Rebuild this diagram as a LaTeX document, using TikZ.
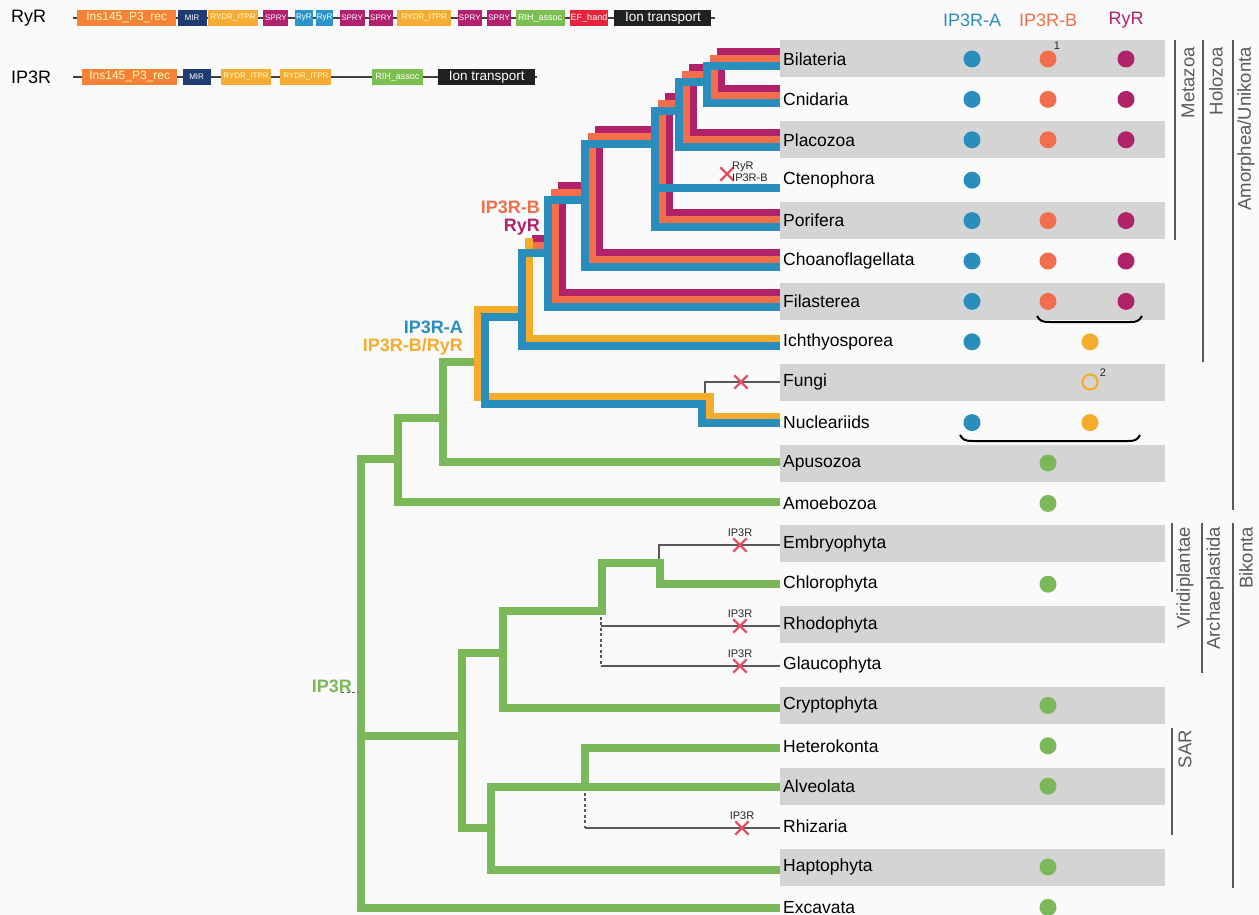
\documentclass[tikz,border=0pt]{standalone}
\usepackage{fontspec}
\setmainfont{Liberation Sans}
\usetikzlibrary{positioning,shapes.misc}
\definecolor{GeneA}{RGB}{41,142,188}
\definecolor{GeneB}{RGB}{242,110,76}
\definecolor{GeneR}{RGB}{176,34,106}
\definecolor{GeneBR}{RGB}{245,172,45}
\definecolor{GeneIP}{RGB}{122,184,90}
\definecolor{LossRed}{RGB}{226,82,100}
\definecolor{BandGray}{RGB}{212,212,212}
\definecolor{PageBg}{RGB}{250,250,250}
\definecolor{CladeGray}{RGB}{90,90,90}
\definecolor{dIns}{RGB}{245,130,55}
\definecolor{dMIR}{RGB}{30,60,115}
\definecolor{dRYDR}{RGB}{246,172,52}
\definecolor{dSPRY}{RGB}{178,32,112}
\definecolor{dRyR}{RGB}{40,150,200}
\definecolor{dRIH}{RGB}{125,190,80}
\definecolor{dEF}{RGB}{230,36,60}
\definecolor{dIon}{RGB}{35,32,33}
\newcommand\taxfont{\fontsize{17.5}{20}\selectfont}
\newcommand\cladefont{\fontsize{18.5}{20}\selectfont}
\newcommand\genefont{\fontsize{18}{20}\selectfont}
\newcommand\lossfont{\fontsize{11}{12}\selectfont}
\newcommand\domS{\fontsize{8}{9}\selectfont}
\newcommand\domM{\fontsize{9}{10}\selectfont}
\newcommand\domL{\fontsize{12}{13}\selectfont}
\newcommand\domI{\fontsize{13.5}{14}\selectfont}
% one copy of the animal part of the tree, shifted by (#2,#3)
\newcommand\metabundle[3]{%
  \draw[#1] (780,66+#3) -| (707+#2,103+#3) -- (780,103+#3);
  \draw[#1] (707+#2,82+#3) -| (679+#2,147+#3) -- (780,147+#3);
  \draw[#1] (679+#2,111+#3) -| (655+#2,227+#3) -- (780,227+#3);
  \draw[#1] (655+#2,144+#3) -| (585+#2,267+#3) -- (780,267+#3);
  \draw[#1] (585+#2,200+#3) -| (548+#2,307+#3) -- (780,307+#3);
}
\tikzset{
  taxon/.style={anchor=west,inner sep=0pt,font=\taxfont},
  dombox/.style={inner sep=0pt,minimum height=16pt,text=white,font=\domS},
  bbone/.style={draw=black!75,line width=1.5pt},
  lnA/.style={draw=GeneA,line width=7.2pt},
  lnB/.style={draw=GeneB,line width=7.2pt},
  lnR/.style={draw=GeneR,line width=7.2pt},
  lnY/.style={draw=GeneBR,line width=7.2pt},
  lnG/.style={draw=GeneIP,line width=8pt},
  gone/.style={draw=black!65,line width=1.3pt},
  gonedash/.style={gone,dash pattern=on 3pt off 2.5pt},
  lost/.style={cross out,draw=LossRed,line width=2.4pt,minimum size=11pt,inner sep=0pt},
  lossl/.style={font=\lossfont,text=black!85,inner sep=1pt},
  dotA/.style={circle,fill=GeneA,minimum size=17pt,inner sep=0pt},
  dotB/.style={circle,fill=GeneB,minimum size=17pt,inner sep=0pt},
  dotR/.style={circle,fill=GeneR,minimum size=17pt,inner sep=0pt},
  dotY/.style={circle,fill=GeneBR,minimum size=17pt,inner sep=0pt},
  dotG/.style={circle,fill=GeneIP,minimum size=17pt,inner sep=0pt},
  clade/.style={rotate=90,anchor=east,inner sep=0pt,font=\cladefont,text=CladeGray},
  cladeline/.style={draw=CladeGray,line width=1.4pt},
  gene/.style={anchor=east,inner sep=0pt,font=\genefont\bfseries},
  head/.style={inner sep=0pt,font=\genefont},
  brace/.style={draw=black,line width=2pt},
}
\begin{document}
\begin{tikzpicture}[x=1pt,y=-1pt]
  \fill[PageBg] (0,0) rectangle (1259,915);
  \useasboundingbox (0,0) rectangle (1259,915);

  % domain architectures
  \node[anchor=west,inner sep=0pt,font=\genefont] (rowRyR) at (11,18) {RyR};
  \coordinate (rA) at (73,18);
  \coordinate (rZ) at (715,18);
  \draw[bbone] (rA) -- (rZ);
  \node[dombox,fill=dIns,text=yellow!25,font=\domL,minimum width=99pt,anchor=west] (rIns) at (77,18) {Ins145\_P3\_rec};
  \node[dombox,fill=dMIR,minimum width=29pt,right=1pt of rIns] (rMIR) {MIR};
  \node[dombox,fill=dRYDR,text=yellow!20,minimum width=50pt,right=1pt of rMIR] (rRYDRa) {RYDR\_ITPR};
  \node[dombox,fill=dSPRY,minimum width=25pt,right=5pt of rRYDRa] (rSPRYa) {SPRY};
  \node[dombox,fill=dRyR,minimum width=18pt,right=6pt of rSPRYa] (rRyRa) {RyR};
  \node[dombox,fill=dRyR,minimum width=17pt,right=3pt of rRyRa] (rRyRb) {RyR};
  \node[dombox,fill=dSPRY,minimum width=25pt,right=6pt of rRyRb] (rSPRYb) {SPRY};
  \node[dombox,fill=dSPRY,minimum width=24pt,right=4pt of rSPRYb] (rSPRYc) {SPRY};
  \node[dombox,fill=dRYDR,text=yellow!20,minimum width=54pt,right=4pt of rSPRYc] (rRYDRb) {RYDR\_ITPR};
  \node[dombox,fill=dSPRY,minimum width=24pt,right=6pt of rRYDRb] (rSPRYd) {SPRY};
  \node[dombox,fill=dSPRY,minimum width=24pt,right=5pt of rSPRYd] (rSPRYe) {SPRY};
  \node[dombox,fill=dRIH,font=\domM,minimum width=49pt,right=4pt of rSPRYe] (rRIH) {RIH\_assoc};
  \node[dombox,fill=dEF,font=\domM,minimum width=38pt,right=5pt of rRIH] (rEF) {EF\_hand};
  \node[dombox,fill=dIon,font=\domI,minimum width=97pt,right=6pt of rEF] (rIon) {Ion transport};

  \node[anchor=west,inner sep=0pt,font=\genefont] (rowIP3R) at (11,77) {IP3R};
  \coordinate (iA) at (73,77);
  \coordinate (iZ) at (537,77);
  \draw[bbone] (iA) -- (iZ);
  \node[dombox,fill=dIns,text=yellow!25,font=\domL,minimum width=95pt,anchor=west] (iIns) at (82,77) {Ins145\_P3\_rec};
  \node[dombox,fill=dMIR,minimum width=28pt,right=5pt of iIns] (iMIR) {MIR};
  \node[dombox,fill=dRYDR,text=yellow!20,minimum width=50pt,right=10pt of iMIR] (iRYDRa) {RYDR\_ITPR};
  \node[dombox,fill=dRYDR,text=yellow!20,minimum width=51pt,right=9pt of iRYDRa] (iRYDRb) {RYDR\_ITPR};
  \node[dombox,fill=dRIH,font=\domM,minimum width=51pt,right=40pt of iRYDRb] (iRIH) {RIH\_assoc};
  \node[dombox,fill=dIon,font=\domI,minimum width=97pt,right=15pt of iRIH] (iIon) {Ion transport};

  % taxa and grey bands
  \foreach \nm/\tx [count=\i from 0] in {bil/Bilateria,cni/Cnidaria,pla/Placozoa,cte/Ctenophora,por/Porifera,cho/Choanoflagellata,fil/Filasterea,ich/Ichthyosporea,fun/Fungi,nuc/Nucleariids,apu/Apusozoa,amo/Amoebozoa,emb/Embryophyta,chl/Chlorophyta,rho/Rhodophyta,gla/Glaucophyta,cry/Cryptophyta,het/Heterokonta,alv/Alveolata,rhi/Rhizaria,hap/Haptophyta,exc/Excavata}{
    \ifodd\i\relax\else
      \fill[BandGray] (780,{59+40.4*\i-18.5}) rectangle (1165,{59+40.4*\i+18.5});
    \fi
    \node[taxon] (\nm) at (783,{59+40.4*\i}) {\tx};
  }

  % lost branches
  \draw[gone] (705,397) |- (780,382);
  \draw[gone] (659,563) |- (780,545);
  \draw[gonedash] (601,611) -- (601,666);
  \draw[gone] (601,626) -- (780,626);
  \draw[gone] (601,666) -- (780,666);
  \draw[gonedash] (585,787) -- (585,828);
  \draw[gone] (585,828) -- (780,828);

  % IP3R tree
  \draw[lnG] (478,362) -| (443,462) -- (780,462);
  \draw[lnG] (443,418) -| (398,502) -- (780,502);
  \draw[lnG] (398,459) -| (361,908) -- (780,908);
  \draw[lnG] (361,736) -- (462,736);
  \draw[lnG] (503,653) -| (462,828) -- (491,828);
  \draw[lnG] (780,584) -| (660,563) -| (602,611) -| (503,708) -- (780,708);
  \draw[lnG] (780,748) -| (585,787);
  \draw[lnG] (780,787) -| (491,870) -- (780,870);

  % RyR and IP3R-B
  \metabundle{lnR}{14}{-14}
  \draw[lnR] (562,239) -- (532,239);
  \metabundle{lnB}{7}{-7}
  \draw[lnB] (555,246) -- (532,246);
  % IP3R-B/RyR before the split
  \draw[lnY] (529,238) |- (780,339);
  \draw[lnY] (529,310) -| (478,397) -| (710,417) -- (780,417);
  % IP3R-A
  \metabundle{lnA}{0}{0}
  \draw[lnA] (655,188) -- (780,188);
  \draw[lnA] (548,253) -| (522,346) -- (780,346);
  \draw[lnA] (522,317) -| (485,404) -| (702,423) -- (780,423);

  % gene labels
  \node[gene,text=GeneB] (lB) at (540,207) {IP3R-B};
  \node[gene,text=GeneR] (lR) at (540,227) {RyR};
  \node[gene,text=GeneA] (lA) at (463,327) {IP3R-A};
  \node[gene,text=GeneBR] (lBR) at (463,347) {IP3R-B/RyR};
  \node[gene,text=GeneIP] (lIP3R) at (352,686) {IP3R};
  \draw[gonedash,line width=1pt] (341,692) -- (358,692);

  % losses
  \node[lost] (xCte) at (727,174) {};
  \node[lossl,align=left,anchor=west,font=\fontsize{11}{11.5}\selectfont] (lCte) at (731,172) {RyR\\IP3R-B};
  \node[lost] (xFun) at (741,382) {};
  \node[lost,label={[lossl]above:IP3R}] (xEmb) at (740,545) {};
  \node[lost,label={[lossl]above:IP3R}] (xRho) at (740,626) {};
  \node[lost,label={[lossl]above:IP3R}] (xGla) at (740,666) {};
  \node[lost,label={[lossl]above:IP3R}] (xRhi) at (742,828) {};

  % presence table
  \node[head,text=GeneA] (hA) at (972,20) {IP3R-A};
  \node[head,text=GeneB] (hB) at (1048,20) {IP3R-B};
  \node[head,text=GeneR] (hR) at (1126,20) {RyR};
  \foreach \r in {0,1,2,3,4,5,6,7,9}
    \node[dotA] (a\r) at (972,{59+40.4*\r}) {};
  \foreach \r in {0,1,2,4,5,6}{
    \node[dotB] (b\r) at (1048,{59+40.4*\r}) {};
    \node[dotR] (m\r) at (1126,{59+40.4*\r}) {};
  }
  \foreach \r in {7,9}
    \node[dotY] (y\r) at (1090,{59+40.4*\r}) {};
  \node[circle,draw=GeneBR,line width=2.2pt,minimum size=15pt,inner sep=0pt] (y8) at (1090,382) {};
  \foreach \r in {10,11,13,16,17,18,20,21}
    \node[dotG] (g\r) at (1048,{59+40.4*\r}) {};
  \node[lossl] (n1) at (1057,46) {1};
  \node[lossl] (n2) at (1103,373) {2};
  \draw[brace] (1037,316) .. controls (1040,321) and (1042,322) .. (1050,322) -- (1130,322) .. controls (1137,322) and (1139,321) .. (1142,316);
  \draw[brace] (960,435) .. controls (963,440) and (965,441) .. (973,441) -- (1128,441) .. controls (1135,441) and (1137,440) .. (1140,435);

  % clades
  \draw[cladeline] (1175,40) -- (1175,240);
  \node[clade] (metazoa) at (1188,47) {Metazoa};
  \draw[cladeline] (1203,40) -- (1203,362);
  \node[clade] (holozoa) at (1216,47) {Holozoa};
  \draw[cladeline] (1233,40) -- (1233,510);
  \node[clade] (amorphea) at (1246,47) {Amorphea/Unikonta};
  \draw[cladeline] (1172,523) -- (1172,592);
  \node[clade] (viridi) at (1185,527) {Viridiplantae};
  \draw[cladeline] (1202,523) -- (1202,673);
  \node[clade] (archae) at (1215,527) {Archaeplastida};
  \draw[cladeline] (1233,523) -- (1233,888);
  \node[clade] (bikonta) at (1246,527) {Bikonta};
  \draw[cladeline] (1172,728) -- (1172,835);
  \node[clade] (sar) at (1185,730) {SAR};
\end{tikzpicture}
\end{document}
